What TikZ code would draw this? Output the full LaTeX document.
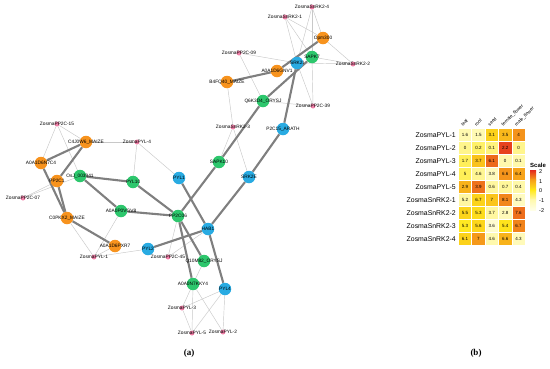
\documentclass[tikz,border=0pt]{standalone}
\usepackage{fontspec}
\setmainfont{Liberation Sans}
\newfontfamily\capfont{Liberation Serif}
\usetikzlibrary{backgrounds}
\definecolor{norg}{HTML}{F7931E}
\definecolor{ngrn}{HTML}{2DC76D}
\definecolor{nblu}{HTML}{29ABE2}
\definecolor{npnk}{HTML}{F080A8}
\definecolor{ethick}{HTML}{7F7F7F}
\definecolor{ethin}{HTML}{C8C8C8}
\definecolor{hmwhite}{HTML}{FFFFEA}
\definecolor{hmpale}{HTML}{FFF9AE}
\definecolor{hmyel}{HTML}{FFE81C}
\definecolor{hmorg}{HTML}{F6A01A}
\definecolor{hmred}{HTML}{E3281F}
\tikzset{
  bignode/.style={circle, minimum size=12.5pt, inner sep=0pt},
  orgnode/.style={bignode, fill=norg},
  grnnode/.style={bignode, fill=ngrn},
  blunode/.style={bignode, fill=nblu},
  pnknode/.style={circle, minimum size=5pt, inner sep=0pt, fill=npnk},
  nl/.style={font=\fontsize{4.8}{5}\selectfont, inner sep=0pt},
  thk/.style={draw=ethick, line width=2.1pt},
  thn/.style={draw=ethin, line width=0.45pt},
  hm/.style={rectangle, minimum width=13.4pt, minimum height=12.93pt, draw=white, line width=0.5pt, inner sep=0pt, font=\fontsize{4.5}{5}\selectfont},
  rowl/.style={anchor=east, inner sep=0pt, font=\fontsize{6.9}{7}\selectfont},
  coll/.style={anchor=base west, rotate=45, inner sep=0pt, font=\fontsize{4.6}{5}\selectfont},
  legl/.style={anchor=west, inner sep=0pt, font=\fontsize{5.5}{6}\selectfont},
  capl/.style={inner sep=0pt, font=\capfont\bfseries\fontsize{9}{10}\selectfont}
}
\newcommand\hmcell[4]{%
  \pgfmathsetmacro\zz{max(-2,min(2,#4))}%
  \ifdim\zz pt<-1pt
    \pgfmathsetmacro\pp{(\zz+2)*100}\colorlet{cc}{hmpale!\pp!hmwhite}%
  \else\ifdim\zz pt<0pt
    \pgfmathsetmacro\pp{(\zz+1)^2*100}\colorlet{cc}{hmyel!\pp!hmpale}%
  \else\ifdim\zz pt<1pt
    \pgfmathsetmacro\pp{\zz*100}\colorlet{cc}{hmorg!\pp!hmyel}%
  \else
    \pgfmathsetmacro\pp{(\zz-1)*100}\colorlet{cc}{hmred!\pp!hmorg}%
  \fi\fi\fi
  \node[hm, fill=cc] (c#1#2) at ({451.6+13.4*#1},{122.27+12.93*#2}) {#3};%
}
\begin{document}
\begin{tikzpicture}[x=1pt,y=-1pt]
\useasboundingbox (0,0) rectangle (550,368);
% ---------- network nodes ----------
% pink (Zostera)
\node[pnknode, label={[nl]center:ZosmaSnRK2-4}] (snrk24) at (312,7) {};
\node[pnknode, label={[nl]center:ZosmaSnRK2-1}] (snrk21) at (285,17) {};
\node[pnknode, label={[nl]center:ZosmaSnRK2-2}] (snrk22) at (353,64) {};
\node[pnknode, label={[nl]center:ZosmaPP2C-09}] (pp2c09) at (239,53) {};
\node[pnknode, label={[nl]center:ZosmaPP2C-39}] (pp2c39) at (313,106) {};
\node[pnknode, label={[nl]center:ZosmaSnRK2-3}] (snrk23) at (233,127) {};
\node[pnknode, label={[nl]center:ZosmaPP2C-15}] (pp2c15) at (57,124) {};
\node[pnknode, label={[nl]center:ZosmaPYL-4}] (pyl4z) at (137,142) {};
\node[pnknode, label={[nl]center:ZosmaPP2C-07}] (pp2c07) at (23,198) {};
\node[pnknode, label={[nl]center:ZosmaPYL-1}] (pyl1z) at (94,257) {};
\node[pnknode, label={[nl]center:ZosmaPP2C-45}] (pp2c45) at (168,257) {};
\node[pnknode, label={[nl]center:ZosmaPYL-3}] (pyl3z) at (182,308) {};
\node[pnknode, label={[nl]center:ZosmaPYL-5}] (pyl5z) at (192,333) {};
\node[pnknode, label={[nl]center:ZosmaPYL-2}] (pyl2z) at (223,332) {};
% orange (maize)
\node[orgnode, label={[nl]center:Opm300}] (opm) at (323,38) {};
\node[orgnode, label={[nl]center:A0A1D6GNV1}] (gnv1) at (277,71) {};
\node[orgnode, label={[nl]center:B4FQ40\_MAIZE}] (b4fq) at (227,82) {};
\node[orgnode, label={[nl]center:C4J0W6\_MAIZE}] (c4j) at (86,142) {};
\node[orgnode, label={[nl]center:A0A1D6N7C4}] (n7c4) at (41,163) {};
\node[orgnode, label={[nl]center:PP2C1}] (pp2c1) at (57,181) {};
\node[orgnode, label={[nl]center:C0PKX2\_MAIZE}] (c0pk) at (67,218) {};
\node[orgnode, label={[nl]center:A0A1D6PXR7}] (pxr7) at (115,246) {};
% green (rice)
\node[grnnode, label={[nl]center:SAPK7}] (sapk7) at (312,57) {};
\node[grnnode, label={[nl]center:Q6K3D4\_ORYSJ}] (q6k) at (263,101) {};
\node[grnnode, label={[nl]center:SAPK10}] (sapk10) at (219,162) {};
\node[grnnode, label={[nl]center:OsJ\_003941}] (osj) at (80,176) {};
\node[grnnode, label={[nl]center:PYL10}] (pyl10) at (133,182) {};
\node[grnnode, label={[nl]center:A0A0P0VGV8}] (gv8) at (121,211) {};
\node[grnnode, label={[nl]center:PP2C06}] (pp2c06) at (178,216) {};
\node[grnnode, label={[nl]center:Q10M82\_ORYSJ}] (q10) at (204,261) {};
\node[grnnode, label={[nl]center:A0A0N7KKY4}] (kky4) at (193,284) {};
% blue (Arabidopsis)
\node[blunode, label={[nl]center:SRK2I}] (srk2i) at (297,63) {};
\node[blunode, label={[nl]center:P2C15\_ARATH}] (p2c15) at (283,129) {};
\node[blunode, label={[nl]center:SRK2E}] (srk2e) at (249,177) {};
\node[blunode, label={[nl]center:PYL1}] (pyl1) at (179,178) {};
\node[blunode, label={[nl]center:HAB1}] (hab1) at (208,229) {};
\node[blunode, label={[nl]center:PYL2}] (pyl2) at (148,249) {};
\node[blunode, label={[nl]center:PYL4}] (pyl4) at (225,289) {};
% ---------- edges ----------
\begin{scope}[on background layer]
% thin
\draw[thn] (snrk24) -- (opm);
\draw[thn] (snrk24) -- (sapk7);
\draw[thn] (snrk24) -- (srk2i);
\draw[thn] (snrk21) -- (opm);
\draw[thn] (snrk21) -- (sapk7);
\draw[thn] (snrk21) -- (srk2i);
\draw[thn] (snrk22) -- (opm);
\draw[thn] (snrk22) -- (sapk7);
\draw[thn] (snrk22) -- (srk2i);
\draw[thn] (pp2c09) -- (srk2i);
\draw[thn] (pp2c09) -- (q6k);
\draw[thn] (pp2c39) -- (q6k);
\draw[thn] (pp2c39) -- (srk2i);
\draw[thn] (pp2c39) -- (sapk7);
\draw[thn] (snrk23) -- (b4fq);
\draw[thn] (snrk23) -- (sapk10);
\draw[thn] (snrk23) -- (srk2e);
\draw[thn] (pp2c15) -- (n7c4);
\draw[thn] (pp2c15) -- (c4j);
\draw[thn] (pp2c15) -- (osj);
\draw[thn] (c4j) -- (pyl4z);
\draw[thn] (pyl4z) -- (pyl10);
\draw[thn] (pyl4z) -- (pyl1);
\draw[thn] (pp2c07) -- (pp2c1);
\draw[thn] (pp2c07) -- (osj);
\draw[thn] (pyl1z) -- (c0pk);
\draw[thn] (pyl1z) -- (gv8);
\draw[thn] (pyl1z) -- (pxr7);
\draw[thn] (pyl1z) -- (pyl2);
\draw[thn] (pp2c45) -- (pp2c06);
\draw[thn] (pp2c45) -- (hab1);
\draw[thn] (q10) -- (kky4);
\draw[thn] (kky4) -- (pyl3z);
\draw[thn] (kky4) -- (pyl5z);
\draw[thn] (kky4) -- (pyl2z);
\draw[thn] (pyl4) -- (pyl3z);
\draw[thn] (pyl4) -- (pyl5z);
\draw[thn] (pyl4) -- (pyl2z);
\draw[thn] (pyl3z) -- (pyl5z);
% thick
\draw[thk] (b4fq) -- (gnv1);
\draw[thk] (gnv1) -- (opm);
\draw[thk] (sapk7) -- (q6k);
\draw[thk] (srk2i) -- (p2c15);
\draw[thk] (q6k) -- (sapk10);
\draw[thk] (sapk10) -- (pp2c06);
\draw[thk] (p2c15) -- (srk2e);
\draw[thk] (srk2e) -- (hab1);
\draw[thk] (pyl1) -- (hab1);
\draw[thk] (pyl2) -- (hab1);
\draw[thk] (hab1) -- (pyl4);
\draw[thk] (pp2c06) -- (q10);
\draw[thk] (pp2c06) -- (kky4);
\draw[thk] (osj) -- (pyl10);
\draw[thk] (pyl10) -- (pp2c06);
\draw[thk] (osj) -- (gv8);
\draw[thk] (gv8) -- (pp2c06);
\draw[thk] (c4j) -- (n7c4);
\draw[thk] (c4j) -- (pp2c1);
\draw[thk] (n7c4) -- (c0pk);
\draw[thk] (pp2c1) -- (c0pk);
\draw[thk] (c0pk) -- (pxr7);
\end{scope}
% ---------- heatmap ----------
\hmcell{1}{1}{1.6}{-1.01}\hmcell{2}{1}{1.5}{-1.09}\hmcell{3}{1}{3.1}{0.32}\hmcell{4}{1}{3.5}{0.67}\hmcell{5}{1}{4}{1.11}
\hmcell{1}{2}{0}{-0.52}\hmcell{2}{2}{0.2}{-0.31}\hmcell{3}{2}{0.1}{-0.42}\hmcell{4}{2}{2.2}{1.78}\hmcell{5}{2}{0}{-0.52}
\hmcell{1}{3}{1.7}{-0.24}\hmcell{2}{3}{3.7}{0.53}\hmcell{3}{3}{6.1}{1.46}\hmcell{4}{3}{0}{-0.90}\hmcell{5}{3}{0.1}{-0.86}
\hmcell{1}{4}{5}{-0.23}\hmcell{2}{4}{4.6}{-0.57}\hmcell{3}{4}{3.8}{-1.24}\hmcell{4}{4}{6.6}{1.10}\hmcell{5}{4}{6.4}{0.94}
\hmcell{1}{5}{2.9}{0.75}\hmcell{2}{5}{3.9}{1.38}\hmcell{3}{5}{0.6}{-0.69}\hmcell{4}{5}{0.7}{-0.63}\hmcell{5}{5}{0.4}{-0.82}
\hmcell{1}{6}{5.2}{-0.70}\hmcell{2}{6}{6.7}{0.29}\hmcell{3}{6}{7}{0.49}\hmcell{4}{6}{8.1}{1.22}\hmcell{5}{6}{4.3}{-1.30}
\hmcell{1}{7}{5.5}{0.28}\hmcell{2}{7}{5.3}{0.17}\hmcell{3}{7}{3.7}{-0.69}\hmcell{4}{7}{2.8}{-1.18}\hmcell{5}{7}{7.6}{1.42}
\hmcell{1}{8}{5.3}{-0.02}\hmcell{2}{8}{5.6}{0.25}\hmcell{3}{8}{3.6}{-1.55}\hmcell{4}{8}{5.4}{0.07}\hmcell{5}{8}{6.7}{1.24}
\hmcell{1}{9}{6.1}{0.31}\hmcell{2}{9}{7}{1.06}\hmcell{3}{9}{4.6}{-0.93}\hmcell{4}{9}{6.6}{0.73}\hmcell{5}{9}{4.3}{-1.18}
% row labels
\node[rowl] (r1) at (456,135.2) {ZosmaPYL-1};
\node[rowl] (r2) at (456,148.13) {ZosmaPYL-2};
\node[rowl] (r3) at (456,161.06) {ZosmaPYL-3};
\node[rowl] (r4) at (456,173.99) {ZosmaPYL-4};
\node[rowl] (r5) at (456,186.92) {ZosmaPYL-5};
\node[rowl] (r6) at (456,199.85) {ZosmaSnRK2-1};
\node[rowl] (r7) at (456,212.78) {ZosmaSnRK2-2};
\node[rowl] (r8) at (456,225.71) {ZosmaSnRK2-3};
\node[rowl] (r9) at (456,238.64) {ZosmaSnRK2-4};
% column labels
\node[coll] (k1) at (463,126.5) {leaf};
\node[coll] (k2) at (476.4,126.5) {root};
\node[coll] (k3) at (489.8,126.5) {seed};
\node[coll] (k4) at (503.2,126.5) {female\_flower};
\node[coll] (k5) at (516.6,126.5) {male\_flower};
% legend
\node[anchor=west, inner sep=0pt, font=\bfseries\fontsize{6}{7}\selectfont] (sc) at (530,165) {Scale};
\shade[top color=hmred, bottom color=hmorg] (530,170) rectangle (536,180);
\shade[top color=hmorg, bottom color=hmyel] (530,179.9) rectangle (536,190);
\shade[top color=hmyel, bottom color=hmpale] (530,189.9) rectangle (536,200);
\shade[top color=hmpale, bottom color=hmwhite] (530,199.9) rectangle (536,210.5);
\node[legl] (l2) at (539,171.5) {2};
\node[legl] (l1) at (539,181.2) {1};
\node[legl] (l0) at (539,191) {0};
\node[legl] (lm1) at (539,200.8) {-1};
\node[legl] (lm2) at (539,210.5) {-2};
% captions
\node[capl] (capa) at (189,353) {(a)};
\node[capl] (capb) at (476,353) {(b)};
\end{tikzpicture}
\end{document}
